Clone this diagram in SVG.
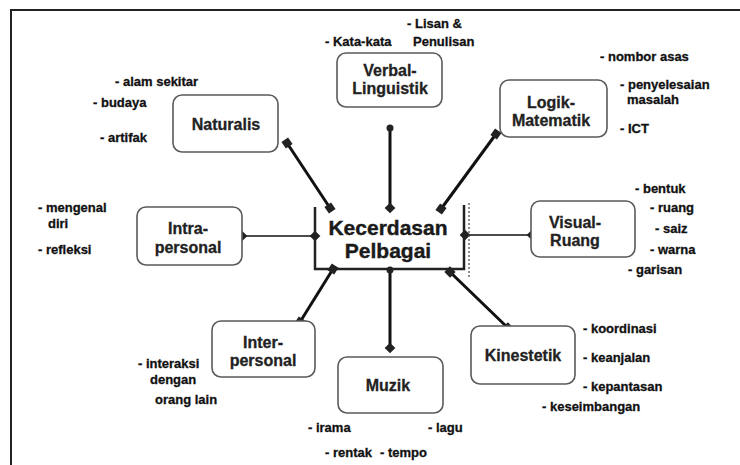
<svg xmlns="http://www.w3.org/2000/svg" width="740" height="465" viewBox="0 0 740 465">
<defs>
<style>
.box{fill:#fff;stroke:#5a5a5a;stroke-width:1.6}
.nl{font-family:"Liberation Sans",Arial,sans-serif;font-weight:bold;font-size:16px;fill:#222;stroke:#222;stroke-width:0.3;text-anchor:middle}
.lb{font-family:"Liberation Sans",Arial,sans-serif;font-weight:bold;font-size:13px;fill:#111;stroke:#111;stroke-width:0.3}
.ct{font-family:"Liberation Sans",Arial,sans-serif;font-weight:bold;font-size:21px;fill:#1a1a1a;stroke:#1a1a1a;stroke-width:0.4;text-anchor:middle}
.thick{stroke:#111;stroke-width:3;fill:none}
.thin{stroke:#111;stroke-width:1.6;fill:none}
.mk{fill:#222}
</style>
<rect id="sq" x="-4" y="-4" width="8" height="8"/>
<rect id="dm" x="-3.8" y="-3.8" width="7.6" height="7.6" transform="rotate(45)"/>
</defs>
<rect width="740" height="465" fill="#fff"/>
<g id="frame" stroke="#222" stroke-width="2" fill="none">
<path d="M10,10 H740"/>
<path d="M11,10 V465"/>
</g>

<g id="connectors">
<path class="thick" d="M390,128 V208"/>
<path class="thick" d="M496,134 L441,209"/>
<path class="thick" d="M287,143 L330,208"/>
<path class="thin" d="M242,236 H315"/>
<path class="thin" d="M465,235 H532"/>
<path class="thick" d="M300,322 L333,269"/>
<path class="thick" d="M390,270 V348"/>
<path class="thick" d="M450,272 L508,328"/>
<g class="mk">
<circle cx="390" cy="128" r="3.5"/>
<use href="#dm" x="390" y="208"/>
<use href="#sq" transform="translate(496,134) rotate(-54)"/>
<use href="#sq" transform="translate(441,209) rotate(-54)"/>
<use href="#sq" transform="translate(287,143) rotate(56)"/>
<use href="#sq" transform="translate(330,208) rotate(56)"/>
<use href="#dm" x="242" y="236"/>
<use href="#dm" x="315" y="236"/>
<use href="#dm" x="465" y="235"/>
<use href="#dm" x="532" y="235"/>
<use href="#sq" transform="translate(300,322) rotate(-58)"/>
<use href="#sq" transform="translate(333,269) rotate(-58)"/>
<circle cx="390" cy="270" r="3.5"/>
<use href="#dm" x="390" y="348"/>
<use href="#sq" transform="translate(450,272) rotate(44)"/>
<use href="#sq" transform="translate(508,328) rotate(44)"/>
</g>
</g>

<g id="center">
<path d="M315,207 V269 H464 V205" fill="none" stroke="#222" stroke-width="2.5"/>
<path d="M469,203 V277" fill="none" stroke="#444" stroke-width="1.2" stroke-dasharray="2,2"/>
<text class="ct" x="388" y="235">Kecerdasan</text>
<text class="ct" x="388" y="258">Pelbagai</text>
</g>

<g id="verbal">
<rect class="box" x="337" y="53" width="105" height="54" rx="9"/>
<text class="nl" x="390" y="76">Verbal-</text>
<text class="nl" x="390" y="94">Linguistik</text>
<text class="lb" x="325" y="46">- Kata-kata</text>
<text class="lb" x="407" y="28">- Lisan &amp;</text>
<text class="lb" x="413" y="46">Penulisan</text>
</g>

<g id="logik">
<rect class="box" x="500" y="80" width="107" height="57" rx="9"/>
<text class="nl" x="551" y="108">Logik-</text>
<text class="nl" x="551" y="126">Matematik</text>
<text class="lb" x="600" y="61">- nombor asas</text>
<text class="lb" x="620" y="89">- penyelesaian</text>
<text class="lb" x="627" y="104">masalah</text>
<text class="lb" x="620" y="133">- ICT</text>
</g>

<g id="naturalis">
<rect class="box" x="173" y="95" width="105" height="57" rx="9"/>
<text class="nl" x="226" y="130">Naturalis</text>
<text class="lb" x="115" y="86">- alam sekitar</text>
<text class="lb" x="93" y="107">- budaya</text>
<text class="lb" x="100" y="142">- artifak</text>
</g>

<g id="intra">
<rect class="box" x="137" y="207" width="105" height="58" rx="9"/>
<text class="nl" x="188" y="234">Intra-</text>
<text class="nl" x="188" y="253">personal</text>
<text class="lb" x="38" y="212">- mengenal</text>
<text class="lb" x="48" y="228">diri</text>
<text class="lb" x="38" y="254">- refleksi</text>
</g>

<g id="visual">
<rect class="box" x="531" y="201" width="104" height="56" rx="9"/>
<text class="nl" x="575" y="228">Visual-</text>
<text class="nl" x="575" y="246">Ruang</text>
<text class="lb" x="635" y="193">- bentuk</text>
<text class="lb" x="650" y="212">- ruang</text>
<text class="lb" x="655" y="233">- saiz</text>
<text class="lb" x="650" y="254">- warna</text>
<text class="lb" x="628" y="274">- garisan</text>
</g>

<g id="inter">
<rect class="box" x="212" y="321" width="103" height="56" rx="9"/>
<text class="nl" x="263" y="348">Inter-</text>
<text class="nl" x="263" y="366">personal</text>
<text class="lb" x="138" y="368">- interaksi</text>
<text class="lb" x="150" y="384">dengan</text>
<text class="lb" x="155" y="404">orang lain</text>
</g>

<g id="muzik">
<rect class="box" x="338" y="357" width="105" height="56" rx="9"/>
<text class="nl" x="388" y="391">Muzik</text>
<text class="lb" x="308" y="432">- irama</text>
<text class="lb" x="428" y="432">- lagu</text>
<text class="lb" x="325" y="457">- rentak</text>
<text class="lb" x="380" y="457">- tempo</text>
</g>

<g id="kinestetik">
<rect class="box" x="471" y="326" width="104" height="58" rx="9"/>
<text class="nl" x="523" y="361">Kinestetik</text>
<text class="lb" x="583" y="333">- koordinasi</text>
<text class="lb" x="583" y="362">- keanjalan</text>
<text class="lb" x="583" y="391">- kepantasan</text>
<text class="lb" x="542" y="411">- keseimbangan</text>
</g>
</svg>
